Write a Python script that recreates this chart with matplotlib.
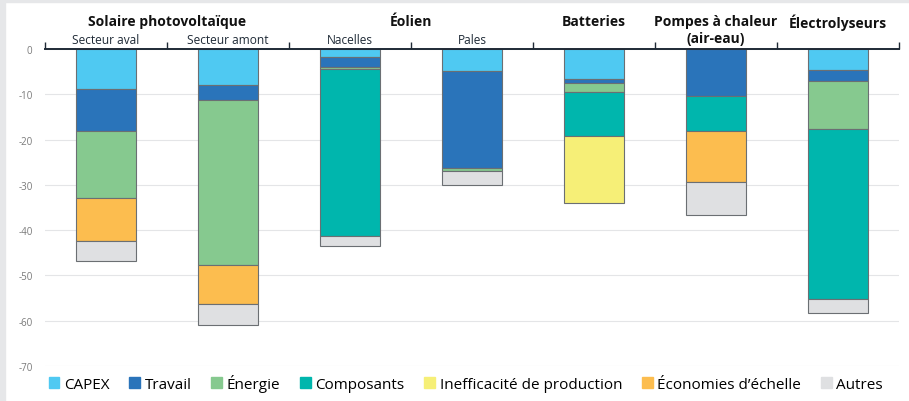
import matplotlib
matplotlib.use("Agg")
import matplotlib.pyplot as plt
import numpy as np
from matplotlib.patches import Rectangle

plt.rcParams["font.family"] = ["Open Sans", "DejaVu Sans"]

sub_labels = ["Secteur aval", "Secteur amont", "Nacelles", "Pales", "", "", ""]
groups = [
    ("Solaire photovoltaïque", 0.5),
    ("Éolien", 2.5),
    ("Batteries", 4.0),
    ("Pompes à chaleur\n(air-eau)", 5.0),
    ("Électrolyseurs", 6.0),
]

components = ["CAPEX", "Travail", "Énergie", "Composants",
              "Inefficacité de production", "Économies d’échelle", "Autres"]
colors = ["#4fc9f2", "#2a74ba", "#86c98f", "#00b6ad", "#f6ef77", "#fcbd4f", "#dfe0e2"]

# contribution (points de %) de chaque composante, par barre
capex = [8.9, 7.9, 1.8, 4.8, 6.7, 0.0, 4.7]
travail = [9.1, 3.3, 2.2, 21.4, 0.9, 10.3, 2.3]
energie = [15.0, 36.6, 0.4, 0.8, 1.8, 0.0, 10.7]
composants = [0.0, 0.0, 36.9, 0.0, 9.9, 7.7, 37.6]
inefficacite = [0.0, 0.0, 0.0, 0.0, 14.7, 0.0, 0.0]
economies = [9.5, 8.4, 0.0, 0.0, 0.0, 11.4, 0.0]
autres = [4.3, 4.8, 2.1, 3.0, 0.0, 7.2, 3.0]

series = [capex, travail, energie, composants, inefficacite, economies, autres]

fig = plt.figure(figsize=(9.09, 4.02), dpi=100)
fig.patch.set_facecolor("white")
fig.add_artist(Rectangle((0, 0), 5 / 909, 1, transform=fig.transFigure,
                         color="#e6e7e9", zorder=0))
fig.add_artist(Rectangle((0, 1 - 3 / 402), 1, 3 / 402, transform=fig.transFigure,
                         color="#e6e7e9", zorder=0))

ax = fig.add_axes([45 / 909, 35 / 402, 854 / 909, 317 / 402])

x = np.arange(len(sub_labels))
bottom = np.zeros(len(x))
handles = []
for name, vals, col in zip(components, series, colors):
    vals = np.array(vals)
    mask = vals > 0
    ax.bar(x[mask], -vals[mask], bottom=bottom[mask], width=0.49, color=col,
           edgecolor="#6b6f73", linewidth=0.8, zorder=3)
    handles.append(Rectangle((0, 0), 1, 1, color=col))
    bottom = bottom - vals

ax.set_xlim(-0.5, 6.5)
ax.set_ylim(-70, 0)
yt = np.arange(0, -71, -10)
ax.set_yticks(yt)
ax.set_yticklabels([str(v) for v in yt], fontsize=7, color="#7a7a7a")
ax.tick_params(axis="y", length=0, pad=9)
ax.grid(axis="y", color="#e4e5e7", linewidth=0.8, zorder=0)

for s in ["left", "right", "bottom"]:
    ax.spines[s].set_visible(False)
ax.spines["top"].set_color("#1f2a36")
ax.spines["top"].set_linewidth(1.4)
ax.spines["top"].set_zorder(5)

ax.xaxis.set_ticks_position("top")
ax.set_xticks(np.arange(-0.5, 7, 1.0))
ax.tick_params(axis="x", direction="out", length=5, width=1, color="#1f2a36",
               labeltop=False, labelbottom=False)

for xi, lab in zip(x, sub_labels):
    if lab:
        ax.annotate(lab, (xi, 0), xytext=(0, 2), textcoords="offset points",
                    ha="center", va="bottom", fontsize=8.6, color="#1f2a36")

for title, xc in groups:
    ax.annotate(title, (xc, 0), xytext=(0, 25.5), textcoords="offset points",
                ha="center", va="top", fontsize=10, fontweight="bold",
                color="#111111", linespacing=1.3)

ax.legend(handles, components, loc="upper left", bbox_to_anchor=(-0.003, -0.005),
          ncol=7, frameon=False, fontsize=11, handlelength=0.7, handleheight=0.7,
          handletextpad=0.3, columnspacing=1.3, borderaxespad=0)

fig.savefig("out.png", dpi=100, facecolor=fig.get_facecolor())
